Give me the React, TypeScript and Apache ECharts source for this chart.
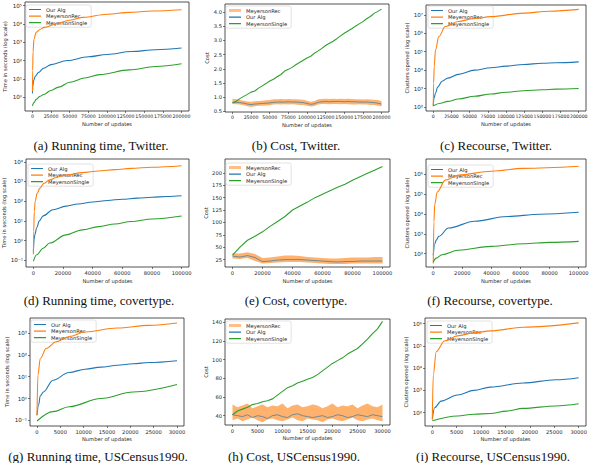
import React, { useEffect, useRef } from "react";
import * as echarts from "echarts";

type Pt = [number, number];

// ---------- (a) Running time, Twitter (seconds) ----------
const runTwitterOurAlg: Pt[] = [[0, 1.6], [500, 4], [1500, 8], [4000, 14], [8000, 22], [15000, 38], [25000, 60], [46600, 100], [75000, 160], [100000, 215], [133000, 310], [165000, 390], [200000, 480]];
const runTwitterRec: Pt[] = [[0, 2], [300, 30], [800, 300], [2000, 1500], [5000, 3500], [10000, 5000], [15700, 6500], [31400, 10000], [50000, 16000], [68000, 23000], [100000, 34000], [130000, 43000], [160000, 51000], [200000, 60000]];
const runTwitterSingle: Pt[] = [[0, 0.33], [2000, 0.5], [5000, 0.75], [10000, 1.1], [15000, 1.4], [24800, 2.3], [35000, 3.5], [50000, 6.5], [70000, 11], [90000, 17], [130000, 31], [165000, 47], [200000, 66]];

// ---------- (b) Cost, Twitter ----------
const costTwitterX = [0, 5000, 10000, 15000, 20000, 25000, 30000, 35000, 40000, 45000, 50000, 55000, 60000, 65000, 70000, 75000, 80000, 85000, 90000, 95000, 100000, 105000, 110000, 115000, 120000, 125000, 130000, 135000, 140000, 145000, 150000, 155000, 160000, 165000, 170000, 175000, 180000, 185000, 190000, 195000, 200000];
const costTwitterRecLow = [0.76, 0.75, 0.74, 0.72, 0.68, 0.66, 0.68, 0.70, 0.70, 0.71, 0.72, 0.74, 0.75, 0.74, 0.75, 0.74, 0.75, 0.74, 0.73, 0.73, 0.70, 0.67, 0.69, 0.74, 0.76, 0.76, 0.75, 0.76, 0.76, 0.75, 0.76, 0.75, 0.74, 0.74, 0.75, 0.74, 0.74, 0.73, 0.73, 0.70, 0.68];
const costTwitterRecHigh = [0.95, 0.93, 0.90, 0.88, 0.85, 0.84, 0.86, 0.87, 0.88, 0.89, 0.90, 0.93, 0.93, 0.94, 0.93, 0.94, 0.93, 0.93, 0.92, 0.91, 0.88, 0.84, 0.87, 0.93, 0.94, 0.95, 0.94, 0.95, 0.94, 0.95, 0.94, 0.95, 0.94, 0.93, 0.93, 0.92, 0.93, 0.92, 0.91, 0.90, 0.86];
const costTwitterOurAlg = [0.82, 0.82, 0.81, 0.79, 0.76, 0.74, 0.76, 0.77, 0.78, 0.79, 0.80, 0.82, 0.83, 0.83, 0.83, 0.84, 0.83, 0.83, 0.82, 0.81, 0.78, 0.75, 0.77, 0.82, 0.84, 0.85, 0.84, 0.85, 0.85, 0.85, 0.84, 0.85, 0.84, 0.84, 0.83, 0.83, 0.83, 0.82, 0.81, 0.79, 0.76];
const costTwitterSingle = [0.80, 0.86, 0.95, 1.03, 1.10, 1.18, 1.22, 1.32, 1.40, 1.48, 1.57, 1.63, 1.72, 1.80, 1.92, 1.98, 2.05, 2.14, 2.22, 2.30, 2.38, 2.44, 2.55, 2.63, 2.72, 2.82, 2.90, 2.97, 3.06, 3.16, 3.25, 3.33, 3.41, 3.50, 3.58, 3.66, 3.76, 3.84, 3.95, 4.02, 4.10];

// ---------- (c) Recourse, Twitter (clusters opened) ----------
const recTwitterOurAlg: Pt[] = [[0, 117], [1000, 300], [3100, 575], [6000, 1200], [12100, 2500], [20000, 3700], [34500, 5900], [56800, 10000], [79200, 13500], [100000, 16500], [124000, 20400], [150000, 23500], [168700, 25000], [200000, 28000]];
const recTwitterRec: Pt[] = [[0, 110], [500, 2000], [1300, 16000], [3100, 126000], [7600, 660000], [16500, 2340000], [34500, 4400000], [55000, 6200000], [79000, 8100000], [124000, 12600000], [160000, 16000000], [200000, 20000000]];
const recTwitterSingle: Pt[] = [[0, 117], [10000, 160], [20000, 200], [34500, 270], [56800, 380], [79200, 510], [100000, 630], [124000, 760], [150000, 860], [168700, 930], [200000, 1000]];

// ---------- (d) Running time, covertype ----------
const runCoverOurAlg: Pt[] = [[0, 0.28], [500, 1.2], [1000, 2], [2200, 4.5], [4000, 10], [6600, 18], [13200, 37], [22000, 56], [30000, 72], [40000, 91], [50000, 109], [60000, 126], [70000, 142], [80000, 158], [90000, 174], [100000, 190]];
const runCoverRec: Pt[] = [[0, 0.2], [200, 3], [600, 30], [1200, 100], [2500, 250], [4400, 460], [7000, 800], [11000, 1200], [16000, 1700], [22000, 2100], [33000, 2800], [44000, 3400], [55000, 4000], [66000, 4600], [80000, 5300], [100000, 6300]];
const runCoverSingle: Pt[] = [[0, 0.09], [2200, 0.19], [6600, 0.41], [11000, 0.75], [22000, 1.95], [33000, 3.5], [44000, 5.1], [55000, 7], [66000, 9.3], [80000, 12.5], [100000, 17.8]];

// ---------- (e) Cost, covertype ----------
const costCoverX = [0, 5000, 10000, 15000, 20000, 25000, 30000, 35000, 40000, 45000, 50000, 55000, 60000, 65000, 70000, 75000, 80000, 85000, 90000, 95000, 100000];
const costCoverRecLow = [27, 26, 28, 22, 17, 18, 19, 20, 20, 20, 19, 18, 17, 16, 16, 16, 17, 17, 17, 17, 17];
const costCoverRecHigh = [38, 37, 40, 36, 28, 29, 31, 33, 33, 32, 30, 29, 28, 27, 27, 28, 29, 29, 29, 30, 30];
const costCoverOurAlg = [32, 30, 33, 29, 21, 22, 24, 25, 25, 25, 24, 23, 22, 21, 20, 21, 21, 22, 22, 22, 22];
const costCoverSingle = [34, 50, 64, 72, 81, 92, 102, 112, 125, 133, 141, 150, 157, 164, 171, 177, 185, 192, 199, 206, 213];

// ---------- (f) Recourse, covertype ----------
const recCoverOurAlg: Pt[] = [[0, 83], [1000, 300], [2000, 480], [3800, 740], [10500, 1940], [28400, 4300], [50800, 7400], [73200, 9600], [100000, 12000]];
const recCoverRec: Pt[] = [[0, 32], [450, 4000], [1000, 30000], [2700, 126000], [8300, 500000], [17200, 890000], [40000, 1400000], [62000, 1950000], [100000, 2500000]];
const recCoverSingle: Pt[] = [[0, 38], [2000, 60], [6000, 89], [17000, 148], [40000, 234], [62000, 316], [80000, 370], [100000, 417]];

// ---------- (g) Running time, USCensus1990 ----------
const runCensusOurAlg: Pt[] = [[0, 0.17], [340, 0.5], [690, 1.3], [1370, 2], [3430, 6.9], [6860, 15.5], [10300, 22], [13700, 27.5], [17200, 33.5], [20600, 39], [24000, 44.5], [30000, 54]];
const runCensusRec: Pt[] = [[0, 0.17], [200, 12], [700, 68], [2000, 200], [4100, 400], [6900, 700], [10300, 1120], [17200, 1700], [24000, 2240], [30000, 2900]];
const runCensusSingle: Pt[] = [[0, 0.093], [3430, 0.25], [6860, 0.42], [13700, 1.0], [20600, 2.0], [30000, 4.4]];

// ---------- (h) Cost, USCensus1990 ----------
const costCensusX = [0, 1000, 2000, 3000, 4000, 5000, 6000, 7000, 8000, 9000, 10000, 11000, 12000, 13000, 14000, 15000, 16000, 17000, 18000, 19000, 20000, 21000, 22000, 23000, 24000, 25000, 26000, 27000, 28000, 29000, 30000];
const costCensusRecLow = [35, 37, 34, 36, 38, 35, 33, 36, 37, 35, 34, 36, 38, 35, 34, 37, 36, 35, 33, 36, 37, 35, 34, 36, 38, 35, 34, 36, 37, 35, 34];
const costCensusRecHigh = [52, 49, 51, 53, 48, 50, 52, 49, 51, 50, 53, 48, 51, 52, 49, 50, 52, 51, 48, 50, 53, 49, 51, 50, 52, 48, 51, 53, 50, 49, 52];
const costCensusOurAlg = [41, 40, 39, 41, 38, 40, 39, 37, 40, 41, 39, 38, 41, 42, 40, 39, 38, 39, 40, 38, 39, 41, 40, 38, 39, 41, 40, 39, 41, 40, 39];
const costCensusSingle = [41, 45, 47, 49, 52, 53, 55, 56, 58, 62, 66, 70, 72, 75, 77, 79, 81, 84, 88, 92, 96, 99, 102, 106, 109, 112, 117, 122, 128, 133, 141];

// ---------- (i) Recourse, USCensus1990 ----------
const recCensusOurAlg: Pt[] = [[0, 50], [470, 166], [1800, 330], [5170, 620], [8520, 1000], [11900, 1400], [18600, 2140], [25300, 3000], [30000, 3700]];
const recCensusRec: Pt[] = [[0, 50], [200, 5000], [800, 54000], [2500, 166000], [5170, 280000], [8520, 380000], [11900, 470000], [18600, 680000], [30000, 1070000]];
const recCensusSingle: Pt[] = [[0, 43], [5170, 71], [8520, 85], [11900, 91], [15200, 117], [18600, 155], [25300, 200], [30000, 250]];

// ---------- tick labels ----------
const xTicksTwitter = [0, 25000, 50000, 75000, 100000, 125000, 150000, 175000, 200000];
const xTicksCover = [0, 20000, 40000, 60000, 80000, 100000];
const xTicksCensus = [0, 5000, 10000, 15000, 20000, 25000, 30000];
const yExpRunTwitter = [0, 1, 2, 3, 4, 5];
const yExpRecTwitter = [2, 3, 4, 5, 6, 7];
const yExpRunCover = [-1, 0, 1, 2, 3, 4];
const yExpRecCover = [2, 3, 4, 5, 6];
const yExpRunCensus = [-1, 0, 1, 2, 3];
const yExpRecCensus = [2, 3, 4, 5, 6];
const yTicksCostTwitter = [0.5, 1.0, 1.5, 2.0, 2.5, 3.0, 3.5, 4.0];
const yTicksCostCover = [25, 50, 75, 100, 125, 150, 175, 200];
const yTicksCostCensus = [40, 60, 80, 100, 120, 140];

const captions = [
  "(a) Running time, Twitter.", "(b) Cost, Twitter.", "(c) Recourse, Twitter.",
  "(d) Running time, covertype.", "(e) Cost, covertype.", "(f) Recourse, covertype.",
  "(g) Running time, USCensus1990.", "(h) Cost, USCensus1990.", "(i) Recourse, USCensus1990.",
];

const BLUE = "#1f77b4";
const ORANGE = "#ff7f0e";
const GREEN = "#2ca02c";
const REC_LEGEND = "#ffbf87";
const INK = "#262626";
const FS = 5.2;

// legend line icons (thin strokes inside a 12x5 box)
const ICON_THIN = "path://M0,0h12v0.01h-12zM0,1.9h12v1.2h-12zM0,5h12v0.01h-12z";
const ICON_THICK = "path://M0,0h12v0.01h-12zM0,1h12v3h-12zM0,5h12v0.01h-12z";

const SUP: Record<string, string> = { "0": "⁰", "1": "¹", "2": "²", "3": "³", "4": "⁴", "5": "⁵", "6": "⁶", "7": "⁷", "8": "⁸", "9": "⁹", "-": "⁻" };
const sup = (n: number) => String(n).split("").map((c) => SUP[c] ?? c).join("");

type LogCfg = {
  kind: "log"; ours: Pt[]; rec: Pt[]; single: Pt[]; yTicks: number[]; yName: string;
};
type CostCfg = {
  kind: "cost"; xs: number[]; lo: number[]; hi: number[]; ours: number[]; single: number[]; yTicks: number[];
};
type Layout = {
  grid: { left: number; top: number; width: number; height: number };
  xMin: number; xMax: number; xTicks: number[]; xFs: number; yMin: number; yMax: number;
  yNameGap: number; xNameGap: number; legend: [number, number]; cap: [number, number];
};

const panels: (LogCfg | CostCfg)[] = [
  { kind: "log", ours: runTwitterOurAlg, rec: runTwitterRec, single: runTwitterSingle, yTicks: yExpRunTwitter, yName: "Time in seconds (log scale)" },
  { kind: "cost", xs: costTwitterX, lo: costTwitterRecLow, hi: costTwitterRecHigh, ours: costTwitterOurAlg, single: costTwitterSingle, yTicks: yTicksCostTwitter },
  { kind: "log", ours: recTwitterOurAlg, rec: recTwitterRec, single: recTwitterSingle, yTicks: yExpRecTwitter, yName: "Clusters opened (log scale)" },
  { kind: "log", ours: runCoverOurAlg, rec: runCoverRec, single: runCoverSingle, yTicks: yExpRunCover, yName: "Time in seconds (log scale)" },
  { kind: "cost", xs: costCoverX, lo: costCoverRecLow, hi: costCoverRecHigh, ours: costCoverOurAlg, single: costCoverSingle, yTicks: yTicksCostCover },
  { kind: "log", ours: recCoverOurAlg, rec: recCoverRec, single: recCoverSingle, yTicks: yExpRecCover, yName: "Clusters opened (log scale)" },
  { kind: "log", ours: runCensusOurAlg, rec: runCensusRec, single: runCensusSingle, yTicks: yExpRunCensus, yName: "Time in seconds (log scale)" },
  { kind: "cost", xs: costCensusX, lo: costCensusRecLow, hi: costCensusRecHigh, ours: costCensusOurAlg, single: costCensusSingle, yTicks: yTicksCostCensus },
  { kind: "log", ours: recCensusOurAlg, rec: recCensusRec, single: recCensusSingle, yTicks: yExpRecCensus, yName: "Clusters opened (log scale)" },
];

const layouts: Layout[] = [
  { grid: { left: 25, top: 2, width: 164, height: 109 }, xMin: -10000, xMax: 210000, xTicks: xTicksTwitter, xFs: 4.7, yMin: -0.76, yMax: 5.2, yNameGap: 18, xNameGap: 10, legend: [26, 5], cap: [101, 145] },
  { grid: { left: 225, top: 4, width: 164, height: 108 }, xMin: -10000, xMax: 210000, xTicks: xTicksTwitter, xFs: 4.7, yMin: 0.48, yMax: 4.28, yNameGap: 16, xNameGap: 10, legend: [226, 6], cap: [296, 145] },
  { grid: { left: 426, top: 5, width: 160, height: 106 }, xMin: -10000, xMax: 210000, xTicks: xTicksTwitter, xFs: 4.6, yMin: 1.78, yMax: 7.54, yNameGap: 16, xNameGap: 10, legend: [428, 6], cap: [496, 145] },
  { grid: { left: 26, top: 159, width: 163, height: 108 }, xMin: -5000, xMax: 105000, xTicks: xTicksCover, xFs: FS, yMin: -1.34, yMax: 4.14, yNameGap: 18, xNameGap: 11, legend: [28, 164], cap: [99, 300] },
  { grid: { left: 225, top: 159, width: 165, height: 108 }, xMin: -5000, xMax: 105000, xTicks: xTicksCover, xFs: FS, yMin: 10, yMax: 228, yNameGap: 16, xNameGap: 11, legend: [226, 163], cap: [296, 300] },
  { grid: { left: 426, top: 159, width: 160, height: 108 }, xMin: -5000, xMax: 105000, xTicks: xTicksCover, xFs: FS, yMin: 1.33, yMax: 6.76, yNameGap: 16, xNameGap: 11, legend: [428, 165], cap: [490, 300] },
  { grid: { left: 30, top: 318, width: 154, height: 108 }, xMin: -1500, xMax: 31500, xTicks: xTicksCensus, xFs: FS, yMin: -1.26, yMax: 3.69, yNameGap: 21, xNameGap: 10, legend: [31, 320], cap: [98, 456] },
  { grid: { left: 225, top: 319, width: 165, height: 106 }, xMin: -1500, xMax: 31500, xTicks: xTicksCensus, xFs: FS, yMin: 30, yMax: 143.6, yNameGap: 16, xNameGap: 10, legend: [226, 321], cap: [294, 456] },
  { grid: { left: 425, top: 318, width: 161, height: 108 }, xMin: -1500, xMax: 31500, xTicks: xTicksCensus, xFs: FS, yMin: 1.4, yMax: 6.25, yNameGap: 15, xNameGap: 10, legend: [427, 321], cap: [493, 456] },
];

function mkLegend(L: Layout, names: { name: string; thick?: boolean }[]) {
  return {
    left: L.legend[0], top: L.legend[1], orient: "vertical",
    itemWidth: 12, itemHeight: 5, itemGap: 1.6,
    padding: [2, 4, 2, 3],
    backgroundColor: "rgba(255,255,255,0.85)", borderColor: "#d6d6d6", borderWidth: 0.7, borderRadius: 2,
    textStyle: { fontSize: FS, color: INK },
    itemStyle: { borderWidth: 0 },
    selectedMode: false,
    data: names.map((n) => ({ name: n.name, icon: n.thick ? ICON_THICK : ICON_THIN })),
  };
}

function buildOption() {
  const grid: any[] = [];
  const xAxis: any[] = [];
  const yAxis: any[] = [];
  const series: any[] = [];
  const legend: any[] = [];
  const graphic: any[] = [];

  panels.forEach((p, k) => {
    const L = layouts[k];
    grid.push({ ...L.grid, show: true, borderColor: INK, borderWidth: 0.8, backgroundColor: "transparent", containLabel: false });
    xAxis.push({
      type: "value", gridIndex: k, min: L.xMin, max: L.xMax,
      name: "Number of updates", nameLocation: "middle", nameGap: L.xNameGap,
      nameTextStyle: { fontSize: FS, color: INK },
      axisLine: { show: false, onZero: false }, splitLine: { show: false },
      axisTick: { show: true, length: 2, lineStyle: { color: INK, width: 0.6 }, customValues: L.xTicks },
      axisLabel: { fontSize: L.xFs, color: INK, margin: 3, hideOverlap: false, customValues: L.xTicks, formatter: (v: number) => String(v) },
    });
    const isLog = p.kind === "log";
    yAxis.push({
      type: "value", gridIndex: k, min: L.yMin, max: L.yMax,
      name: isLog ? (p as LogCfg).yName : "Cost", nameLocation: "middle", nameGap: L.yNameGap,
      nameTextStyle: { fontSize: FS, color: INK },
      axisLine: { show: false, onZero: false }, splitLine: { show: false },
      axisTick: { show: true, length: 2, lineStyle: { color: INK, width: 0.6 }, customValues: p.yTicks },
      axisLabel: {
        fontSize: isLog ? 5.6 : FS, color: INK, margin: 3, hideOverlap: false, customValues: p.yTicks,
        formatter: isLog ? (v: number) => "10" + sup(Math.round(v)) : (v: number) => (k === 1 ? v.toFixed(1) : String(v)),
      },
    });

    const base = { xAxisIndex: k, yAxisIndex: k, symbol: "none", showSymbol: false, silent: true, emphasis: { disabled: true } };
    if (p.kind === "log") {
      const mk = (name: string, color: string, pts: Pt[], z: number) => ({
        ...base, type: "line", name, z,
        data: pts.map(([x, y]) => [x, Math.log10(y)]),
        smooth: 0.35, smoothMonotone: "x",
        lineStyle: { width: 1.1, color }, itemStyle: { color },
      });
      series.push(mk("Our Alg", BLUE, p.ours, 3));
      series.push(mk("MeyersonRec", ORANGE, p.rec, 4));
      series.push(mk("MeyersonSingle", GREEN, p.single, 5));
      legend.push(mkLegend(L, [{ name: "Our Alg" }, { name: "MeyersonRec" }, { name: "MeyersonSingle" }]));
    } else {
      const xs = p.xs, lo = p.lo, hi = p.hi;
      series.push({
        type: "custom", xAxisIndex: k, yAxisIndex: k, silent: true, z: 2,
        data: xs.map((x, i) => [x, lo[i], hi[i]]),
        encode: { x: 0, y: [1, 2] },
        renderItem: (params: any, api: any) => {
          if (params.dataIndex !== 0) return null;
          const top = xs.map((x, i) => api.coord([x, hi[i]]));
          const bot = xs.map((x, i) => api.coord([x, lo[i]])).reverse();
          return { type: "polygon", shape: { points: top.concat(bot) }, style: { fill: ORANGE, opacity: 0.6 } };
        },
      });
      series.push({ ...base, type: "line", name: "MeyersonRec ", data: [], lineStyle: { width: 3, color: REC_LEGEND }, itemStyle: { color: REC_LEGEND } });
      series.push({
        ...base, type: "line", name: "Our Alg", z: 3,
        data: xs.map((x, i) => [x, p.ours[i]]),
        lineStyle: { width: 1, color: BLUE, opacity: 0.65 }, itemStyle: { color: BLUE },
      });
      series.push({
        ...base, type: "line", name: "MeyersonSingle", z: 4,
        data: xs.map((x, i) => [x, p.single[i]]),
        lineStyle: { width: 1.1, color: GREEN }, itemStyle: { color: GREEN },
      });
      legend.push(mkLegend(L, [{ name: "MeyersonRec ", thick: true }, { name: "Our Alg" }, { name: "MeyersonSingle" }]));
    }

    graphic.push({
      type: "text", x: L.cap[0], y: L.cap[1], silent: true,
      style: { text: captions[k], font: '13px "Liberation Serif"', fill: "#111", textAlign: "center", textVerticalAlign: "middle" },
    });
  });

  return {
    animation: false,
    backgroundColor: "#ffffff",
    textStyle: { fontFamily: "DejaVu Sans" },
    grid, xAxis, yAxis, series, legend, graphic,
  };
}

export default function App() {
  const ref = useRef<HTMLDivElement>(null);
  useEffect(() => {
    if (!ref.current) return;
    const chart = echarts.init(ref.current, undefined, { renderer: "svg" });
    chart.setOption(buildOption() as any);
    return () => chart.dispose();
  }, []);
  return <div ref={ref} style={{ position: "fixed", left: 0, top: 0, width: 594, height: 463, background: "#fff" }} />;
}
